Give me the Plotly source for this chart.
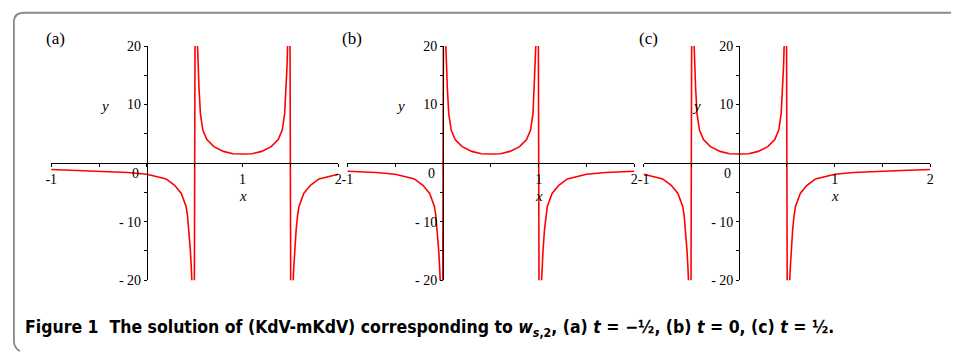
import plotly.graph_objects as go

# values (poles drawn by Maple as near-vertical jumps)
a_x = [-1.0, -0.7, -0.5, -0.37, -0.2, 0.0, 0.09, 0.14, 0.2, 0.29, 0.36, 0.41, 0.425, 0.44, 0.455, 0.465, 0.475, 0.49,
       0.51, 0.525, 0.535, 0.545, 0.56, 0.585, 0.627, 0.7, 0.8, 0.9, 1.0, 1.1, 1.2, 1.3, 1.373, 1.415, 1.44, 1.455, 1.465, 1.475, 1.49,
       1.51, 1.525, 1.535, 1.545, 1.56, 1.575, 1.59, 1.64, 1.71, 1.8, 1.86, 1.91, 2.0]
a_y = [-1.1, -1.26, -1.4, -1.48, -1.62, -1.9, -2.2, -2.45, -2.7, -3.8, -5.2, -7.4, -9, -11.5, -15, -18, -22, -60,
       60, 22, 16.5, 12.75, 8.4, 5.65, 4.0, 2.8, 2.0, 1.6, 1.55, 1.6, 2.0, 2.8, 4.0, 5.65, 8.4, 12.75, 16.5, 22, 60,
       -60, -22, -18, -15, -11.5, -9, -7.4, -5.2, -3.8, -2.7, -2.45, -2.2, -1.9]

b_x = [-1.0, -0.87, -0.7, -0.5, -0.41, -0.36, -0.3, -0.21, -0.14, -0.09, -0.075, -0.06, -0.045, -0.035, -0.025, -0.01,
       0.01, 0.025, 0.035, 0.045, 0.06, 0.085, 0.127, 0.2, 0.3, 0.4, 0.5, 0.6, 0.7, 0.8, 0.873, 0.915, 0.94, 0.955, 0.965, 0.975, 0.99,
       1.01, 1.025, 1.035, 1.045, 1.06, 1.075, 1.09, 1.14, 1.21, 1.3, 1.36, 1.41, 1.5, 1.7, 1.87, 2.0]
b_y = [-1.4, -1.48, -1.62, -1.9, -2.2, -2.45, -2.7, -3.8, -5.2, -7.4, -9, -11.5, -15, -18, -22, -60,
       60, 22, 16.5, 12.75, 8.4, 5.65, 4.0, 2.8, 2.0, 1.6, 1.55, 1.6, 2.0, 2.8, 4.0, 5.65, 8.4, 12.75, 16.5, 22, 60,
       -60, -22, -18, -15, -11.5, -9, -7.4, -5.2, -3.8, -2.7, -2.45, -2.2, -1.9, -1.62, -1.48, -1.4]

c_x = [-1.0, -0.91, -0.86, -0.8, -0.71, -0.64, -0.59, -0.575, -0.56, -0.545, -0.535, -0.525, -0.51,
       -0.49, -0.475, -0.465, -0.455, -0.44, -0.415, -0.373, -0.3, -0.2, -0.1, 0.0, 0.1, 0.2, 0.3, 0.373, 0.415, 0.44, 0.455, 0.465, 0.475, 0.49,
       0.51, 0.525, 0.535, 0.545, 0.56, 0.575, 0.59, 0.64, 0.71, 0.8, 0.86, 0.91, 1.0, 1.2, 1.37, 1.7, 2.0]
c_y = [-1.9, -2.2, -2.45, -2.7, -3.8, -5.2, -7.4, -9, -11.5, -15, -18, -22, -60,
       60, 22, 16.5, 12.75, 8.4, 5.65, 4.0, 2.8, 2.0, 1.6, 1.55, 1.6, 2.0, 2.8, 4.0, 5.65, 8.4, 12.75, 16.5, 22, 60,
       -60, -22, -18, -15, -11.5, -9, -7.4, -5.2, -3.8, -2.7, -2.45, -2.2, -1.9, -1.62, -1.48, -1.26, -1.1]

panel_labels = ["(a)", "(b)", "(c)"]
x_tickvals = [-1, -0.5, 0, 0.5, 1, 1.5, 2]
x_ticktext = ["-1", "", "", "", "1", "", "2"]
y_tickvals = [-20, -15, -10, -5, 5, 10, 15, 20]
y_ticktext = ["- 20", "", "- 10", "", "", "10", "", "20"]

W, H = 955, 361
def px(x): return x / W
def py(y): return 1 - y / H

serif = "Liberation Serif, Times New Roman, serif"
# pixel boxes of the three plot areas (left, right) and shared top/bottom
boxes = [(45.7, 335.7), (345.0, 635.0), (644.3, 934.0)]
top, bottom, zero_y = 40.7, 285.0, 163.0

def note(x, y, text, size, **kw):
    fig.add_annotation(x=px(x), y=py(y), xref="paper", yref="paper", xanchor=kw.get("xanchor", "center"),
                       yanchor="middle", text=text, showarrow=False,
                       font=dict(family=kw.get("family", serif), size=size, color="black"))

fig = go.Figure()
series = [(a_x, a_y), (b_x, b_y), (c_x, c_y)]
for i, (xs, ys) in enumerate(series):
    n = "" if i == 0 else str(i + 1)
    fig.add_trace(go.Scatter(x=xs, y=ys, mode="lines", line=dict(color="#ff0000", width=1.6),
                             xaxis="x" + n, yaxis="y" + n, showlegend=False, hoverinfo="skip"))
    l, r = boxes[i]
    x0_px = l + (r - l) / 3.0
    fig.update_layout(**{
        "xaxis" + n: dict(domain=[px(l), px(r)], range=[-1, 2], anchor="free", position=py(zero_y),
                          showline=True, linecolor="black", linewidth=1, showgrid=False, zeroline=False,
                          tickvals=x_tickvals, ticktext=x_ticktext, ticks="outside", ticklen=3,
                          tickcolor="black", tickfont=dict(family=serif, size=14, color="black")),
        "yaxis" + n: dict(domain=[py(bottom), py(top)], range=[-20, 20], anchor="free", position=px(x0_px),
                          showline=True, linecolor="black", linewidth=1, showgrid=False, zeroline=False,
                          tickvals=y_tickvals, ticktext=y_ticktext, ticks="outside", ticklen=3,
                          tickcolor="black", tickfont=dict(family=serif, size=14, color="black")),
    })
    note(l + 4.5, 33, panel_labels[i], 17)
    note(x0_px - 43, 103, "<i>y</i>", 15)
    note(x0_px + 96.7, 197, "<i>x</i>", 15)
    note(x0_px - 11.5, 174, "0", 14)

caption = ("<b>Figure 1  The solution of (KdV-mKdV) corresponding to <i>w</i><sub><i>s</i>,2</sub>, "
           "(a) <i>t</i> = −½, (b) <i>t</i> = 0, (c) <i>t</i> = ½.</b>")
note(17, 335, caption, 17.5, xanchor="left",
     family="DejaVu Sans Condensed, Liberation Sans Narrow, Roboto, sans-serif")

# rounded frame on the left/top
frame = (f"M {px(14)},{py(359)} Q {px(8)},{py(356)} {px(8)},{py(348)} "
         f"L {px(8)},{py(16)} Q {px(8)},{py(6)} {px(18)},{py(6)} L {px(955)},{py(6)}")
fig.add_shape(type="path", path=frame, xref="paper", yref="paper", line=dict(color="#8a8a8a", width=1.8))

fig.update_layout(width=W, height=H, margin=dict(l=0, r=0, t=0, b=0),
                  paper_bgcolor="white", plot_bgcolor="white")
fig.write_html("out.html", config={"displayModeBar": False},
               post_script="document.body.style.margin='0';")
